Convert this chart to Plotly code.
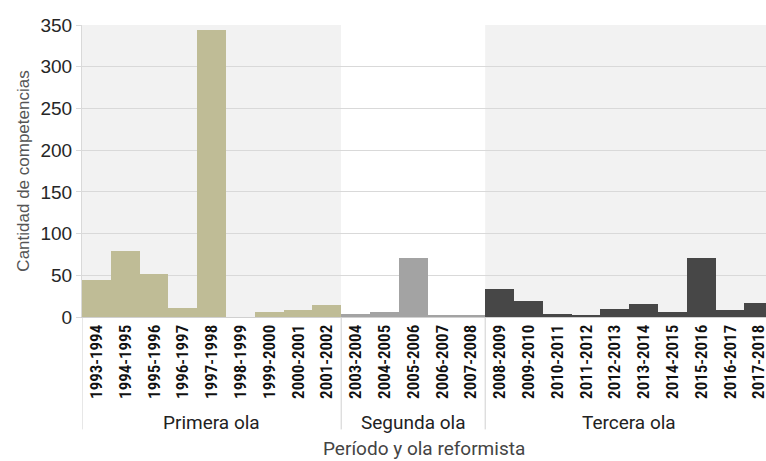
import plotly.graph_objects as go

periods = ["1993-1994", "1994-1995", "1995-1996", "1996-1997", "1997-1998", "1998-1999",
           "1999-2000", "2000-2001", "2001-2002",
           "2003-2004", "2004-2005", "2005-2006", "2006-2007", "2007-2008",
           "2008-2009", "2009-2010", "2010-2011", "2011-2012", "2012-2013", "2013-2014",
           "2014-2015", "2015-2016", "2016-2017", "2017-2018"]
waves = ["Primera ola"] * 9 + ["Segunda ola"] * 5 + ["Tercera ola"] * 10
values = [44, 79, 52, 11, 344, 0, 6, 8, 14,
          4, 6, 71, 2, 2,
          33, 19, 4, 2, 10, 15, 6, 71, 8, 17]
wave_names = ["Primera ola", "Segunda ola", "Tercera ola"]
wave_bar_colors = {"Primera ola": "#bfbc96", "Segunda ola": "#a3a3a3", "Tercera ola": "#474747"}
wave_bg_colors = {"Primera ola": "#f2f2f2", "Segunda ola": "#ffffff", "Tercera ola": "#f2f2f2"}

cond_font = "Roboto Condensed, DejaVu Sans Condensed, Liberation Sans Narrow, Roboto, sans-serif"
label_font = "Roboto, Open Sans, sans-serif"

fig = go.Figure()
fig.add_trace(go.Bar(
    x=list(range(len(periods))), y=values,
    marker=dict(color=[wave_bar_colors[w] for w in waves], line=dict(width=0)),
    showlegend=False, hoverinfo="skip",
))

shapes = []
annotations = []
start = 0
for wn in wave_names:
    n = waves.count(wn)
    x0, x1 = start - 0.5, start + n - 0.5
    shapes.append(dict(type="rect", xref="x", yref="paper", x0=x0, x1=x1 if wn != "Tercera ola" else 30,
                       y0=0, y1=1, fillcolor=wave_bg_colors[wn], line=dict(width=0), layer="below"))
    shapes.append(dict(type="line", xref="x", yref="paper", x0=x0, x1=x0, y0=0, y1=-0.385,
                       line=dict(color="#d0d0d0", width=1)))
    annotations.append(dict(x=(x0 + x1) / 2, y=-0.36, xref="x", yref="paper", text=wn,
                            showarrow=False, font=dict(family=label_font, size=19, color="#222222"),
                            xanchor="center", yanchor="middle"))
    start += n

annotations.append(dict(x=0.5, y=-0.452, xref="paper", yref="paper", text="Período y ola reformista",
                        showarrow=False, font=dict(family=label_font, size=19, color="#444444"),
                        xanchor="center", yanchor="middle"))

fig.update_layout(
    width=766, height=461,
    margin=dict(l=82, r=0, t=25, b=144),
    paper_bgcolor="#ffffff", plot_bgcolor="#ffffff",
    bargap=0,
    shapes=shapes, annotations=annotations,
    xaxis=dict(
        tickmode="array", tickvals=list(range(len(periods))), ticktext=periods,
        tickangle=-90, range=[-0.5, 23.25], automargin=False, ticklabeloverflow="allow",
        tickfont=dict(family=cond_font, size=17, color="#111111", weight=600),
        showgrid=False, showline=True, linecolor="#d0d0d0", ticks="", zeroline=False,
    ),
    yaxis=dict(
        range=[0, 350], tickvals=[0, 50, 100, 150, 200, 250, 300, 350], automargin=False,
        tickfont=dict(family="Liberation Sans, Arial, sans-serif", size=19, color="#262626"),
        gridcolor="#d9d9d9", gridwidth=1, ticks="outside", ticklen=5, tickcolor="#d9d9d9",
        showline=True, linecolor="#d9d9d9", zeroline=False,
        title=dict(text="Cantidad de competencias", standoff=6,
                   font=dict(family="Liberation Sans, Arial, sans-serif", size=17, color="#555555")),
    ),
)

fig.write_html("out.html", config={"displayModeBar": False})
with open("out.html", encoding="utf-8") as f:
    html = f.read()
html = html.replace("<body>", '<body style="margin:0;padding:0;overflow:hidden">', 1)
with open("out.html", "w", encoding="utf-8") as f:
    f.write(html)
